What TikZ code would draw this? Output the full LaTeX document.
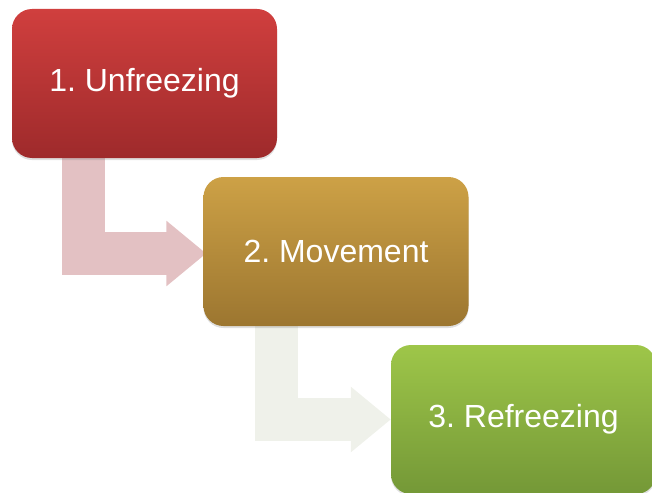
\documentclass[tikz,border=0pt]{standalone}
\usepackage{fontspec}
\setmainfont{Liberation Sans}
\usepackage{tikz}
\usetikzlibrary{arrows.meta,shadows,backgrounds}
\frenchspacing

\definecolor{unfreezetop}{RGB}{208,63,62}
\definecolor{unfreezebot}{RGB}{158,42,43}
\definecolor{movetop}{RGB}{205,161,70}
\definecolor{movebot}{RGB}{156,118,48}
\definecolor{refreezetop}{RGB}{158,198,73}
\definecolor{refreezebot}{RGB}{116,152,55}
\definecolor{bendone}{RGB}{227,193,195}
\definecolor{bendtwo}{RGB}{239,241,234}

\begin{document}
\begin{tikzpicture}[x=1pt,y=1pt]
            \tikzstyle{stage}=[rounded corners=20pt, minimum width=265pt, minimum height=149pt, inner sep=0pt, text=white, font=\fontsize{32}{38}\selectfont, drop shadow={opacity=0.25, shadow xshift=0pt, shadow yshift=-2pt}]
            \tikzstyle{bentarrow}=[line width=43pt, line join=miter, -{Triangle[width=63pt,length=40pt]}]
            \useasboundingbox (0,0) rectangle (652,-492);
            \node [stage, top color=unfreezetop, bottom color=unfreezebot] (unfreeze) at (144.5,-83.5) {1. Unfreezing};
            \node [stage, top color=movetop, bottom color=movebot] (move) at (336,-251.5) {2. Movement};
            \node [stage, top color=refreezetop, bottom color=refreezebot] (refreeze) at (523.5,-419.5) {3. Refreezing};
            \begin{scope}[on background layer]
            \draw [bentarrow, draw=bendone] ([xshift=72pt,yshift=10pt]unfreeze.south west) |- ([xshift=3pt,yshift=-2pt]move.west);
            \draw [bentarrow, draw=bendtwo] ([xshift=73pt,yshift=10pt]move.south west) |- (refreeze.west);
            \end{scope}
        \end{tikzpicture}
\end{document}
